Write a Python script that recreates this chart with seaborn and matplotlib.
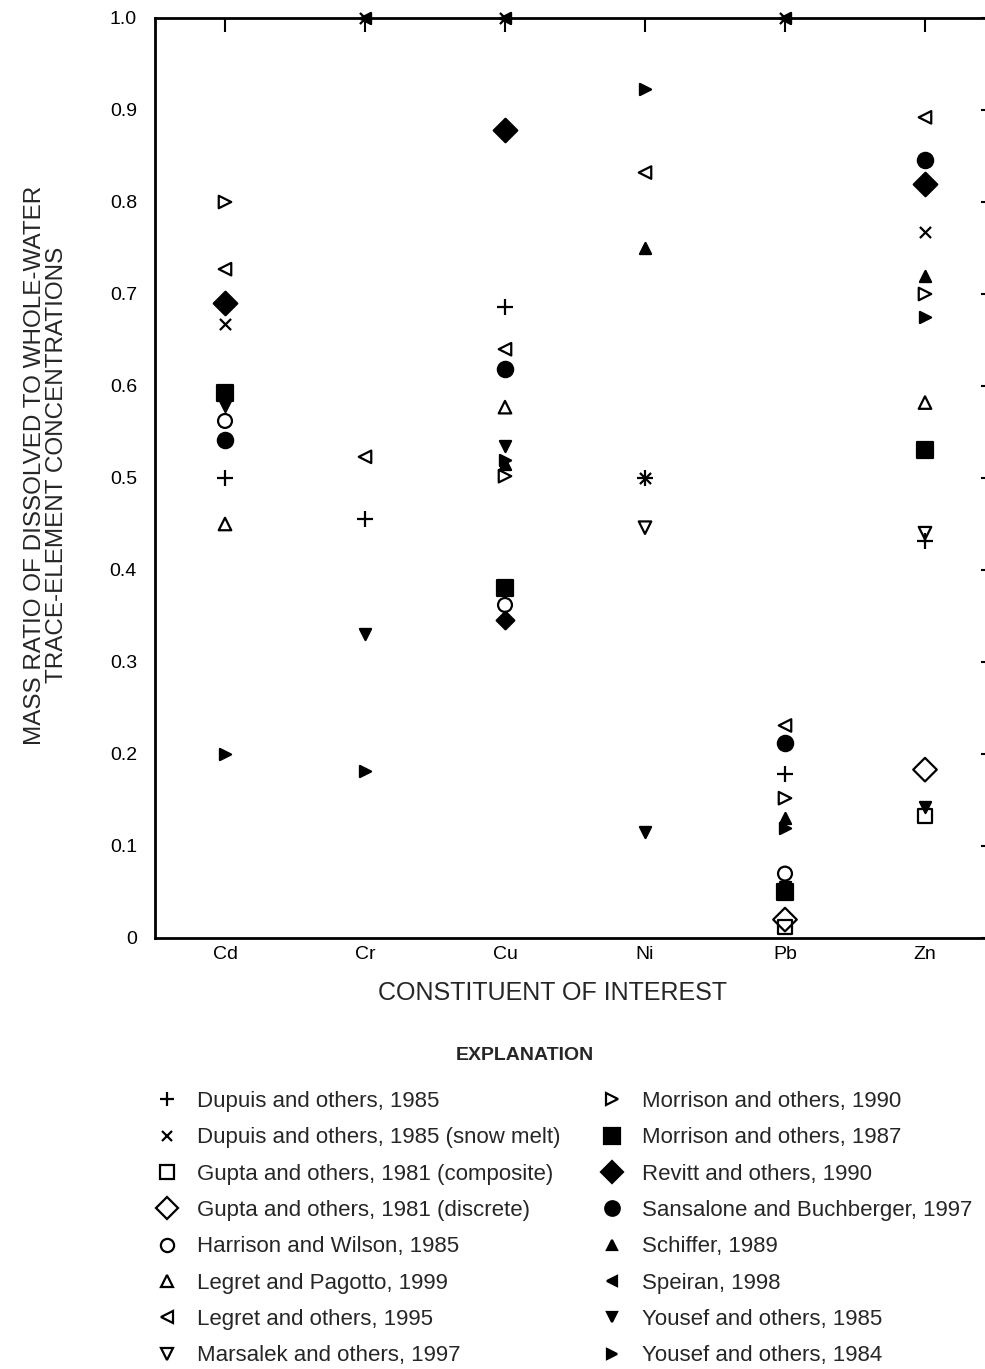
import numpy as np
import pandas as pd
import matplotlib
matplotlib.use("Agg")
import matplotlib.pyplot as plt
from matplotlib.lines import Line2D
from matplotlib.ticker import MultipleLocator, FuncFormatter
import seaborn as sns

sns.set_style("white")
plt.rcParams['font.family'] = ['Liberation Sans', 'DejaVu Sans']

nan = np.nan
constituents = ["Cd", "Cr", "Cu", "Ni", "Pb", "Zn"]

# one value per constituent (nan = not reported)
dupuis_1985        = [0.500, 0.455, 0.686, 0.500, 0.178, 0.432]
dupuis_1985_snow   = [0.667, 1.000, 1.000, 0.500, 1.000, 0.767]
gupta_composite    = [nan, nan, nan, nan, 0.012, 0.133]
gupta_discrete     = [nan, nan, nan, nan, 0.020, 0.183]
harrison_wilson    = [0.562, nan, 0.362, nan, 0.070, nan]
legret_pagotto     = [0.450, nan, 0.577, nan, nan, 0.582]
legret_1995        = [0.727, 0.523, 0.640, 0.832, 0.231, 0.892]
marsalek_1997      = [nan, nan, nan, 0.446, nan, 0.440]
morrison_1990      = [0.800, nan, 0.502, nan, 0.152, 0.700]
morrison_1987      = [0.592, nan, 0.380, nan, 0.050, 0.530]
revitt_1990        = [0.690, nan, 0.878, nan, nan, 0.820]
sansalone_1997     = [0.541, nan, 0.618, nan, 0.212, 0.846]
schiffer_1989      = [nan, nan, 0.515, 0.750, 0.130, 0.720]
speiran_1998       = [nan, 1.000, 1.000, nan, 1.000, nan]
yousef_1985        = [0.578, 0.330, 0.535, 0.115, 0.055, 0.142]
yousef_1984        = [0.200, 0.182, 0.520, 0.923, 0.120, 0.675]
# second Revitt value for Cu (lower cluster)
revitt_1990_second = [nan, nan, 0.346, nan, nan, nan]

labels = [
    "Dupuis and others, 1985",
    "Dupuis and others, 1985 (snow melt)",
    "Gupta and others, 1981 (composite)",
    "Gupta and others, 1981 (discrete)",
    "Harrison and Wilson, 1985",
    "Legret and Pagotto, 1999",
    "Legret and others, 1995",
    "Marsalek and others, 1997",
    "Morrison and others, 1990",
    "Morrison and others, 1987",
    "Revitt and others, 1990",
    "Sansalone and Buchberger, 1997",
    "Schiffer, 1989",
    "Speiran, 1998",
    "Yousef and others, 1985",
    "Yousef and others, 1984",
]
series = [dupuis_1985, dupuis_1985_snow, gupta_composite, gupta_discrete,
          harrison_wilson, legret_pagotto, legret_1995, marsalek_1997,
          morrison_1990, morrison_1987, revitt_1990, sansalone_1997,
          schiffer_1989, speiran_1998, yousef_1985, yousef_1984]

# marker, size (pt), filled
styles = [
    ("+", 11, True), ("x", 8, True), ("s", 10, False), ("D", 12, False),
    ("o", 10, False), ("^", 9, False), ("<", 9, False), ("v", 9, False),
    (">", 9, False), ("s", 12, True), ("D", 12, True), ("o", 11, True),
    ("^", 8, True), ("<", 8, True), ("v", 8, True), (">", 8, True),
]

fig = plt.figure(figsize=(9.85, 13.69), dpi=100)
ax = fig.add_axes([155 / 985, 431 / 1369, 840 / 985, 920 / 1369])


def draw(vals, m, size, filled, zorder=3):
    df = pd.DataFrame({"x": np.arange(len(constituents)), "y": vals}).dropna()
    kw = dict(color="black", edgecolor="black", linewidth=1.6)
    if m not in ("+", "x"):
        kw["facecolor"] = "black" if filled else "none"
    sns.scatterplot(data=df, x="x", y="y", marker=m, s=size ** 2, ax=ax,
                    legend=False, zorder=zorder, clip_on=False, **kw)


draw(revitt_1990_second, "D", 9, True, zorder=2)
for lab, vals, (m, size, filled) in zip(labels, series, styles):
    draw(vals, m, size, filled)

ax.set_xlim(-0.5, 5.5)
ax.set_ylim(0, 1.0)
ax.set_xticks(range(len(constituents)))
ax.set_xticklabels(constituents)
ax.yaxis.set_major_locator(MultipleLocator(0.1))
ax.yaxis.set_minor_locator(MultipleLocator(0.01))
ax.yaxis.set_major_formatter(FuncFormatter(lambda v, p: "0" if abs(v) < 1e-9 else f"{v:.1f}"))
ax.tick_params(which="both", direction="in", top=True, right=True,
               width=1.5, labelsize=14, colors="black")
ax.tick_params(which="major", length=10)
ax.tick_params(axis="y", which="major", pad=13)
ax.tick_params(axis="x", which="major", pad=6)
ax.tick_params(which="minor", length=5)
for sp in ax.spines.values():
    sp.set_linewidth(2)
    sp.set_color("black")

ax.set_xlabel("CONSTITUENT OF INTEREST", fontsize=18)
ax.xaxis.set_label_coords((553 - 155) / 840, -(981 - 938) / 920)
ax.set_ylabel("MASS RATIO OF DISSOLVED TO WHOLE-WATER\nTRACE-ELEMENT CONCENTRATIONS",
              fontsize=17.5, linespacing=1.0)
ax.yaxis.set_label_coords(-(155 - 68) / 840, (938 - 465) / 920)

fig.text(525 / 985, 1 - 1055 / 1369, "EXPLANATION", fontsize=14, fontweight="bold",
         ha="center", va="center")

handles = []
for lab, (m, size, filled) in zip(labels, styles):
    fc = "black" if filled else "none"
    handles.append(Line2D([], [], linestyle="none", marker=m, markersize=size * 0.95,
                          markerfacecolor=fc, markeredgecolor="black",
                          markeredgewidth=1.6, color="black"))

leg = fig.legend(handles, labels, ncol=2, loc="upper left",
                 bbox_to_anchor=(154 / 985, 1 - 1091 / 1369),
                 frameon=False, fontsize=16, borderpad=0, borderaxespad=0,
                 handletextpad=0.75, columnspacing=1.7, labelspacing=0.69,
                 handlelength=1.2)

fig.savefig("out.png", dpi=100)
